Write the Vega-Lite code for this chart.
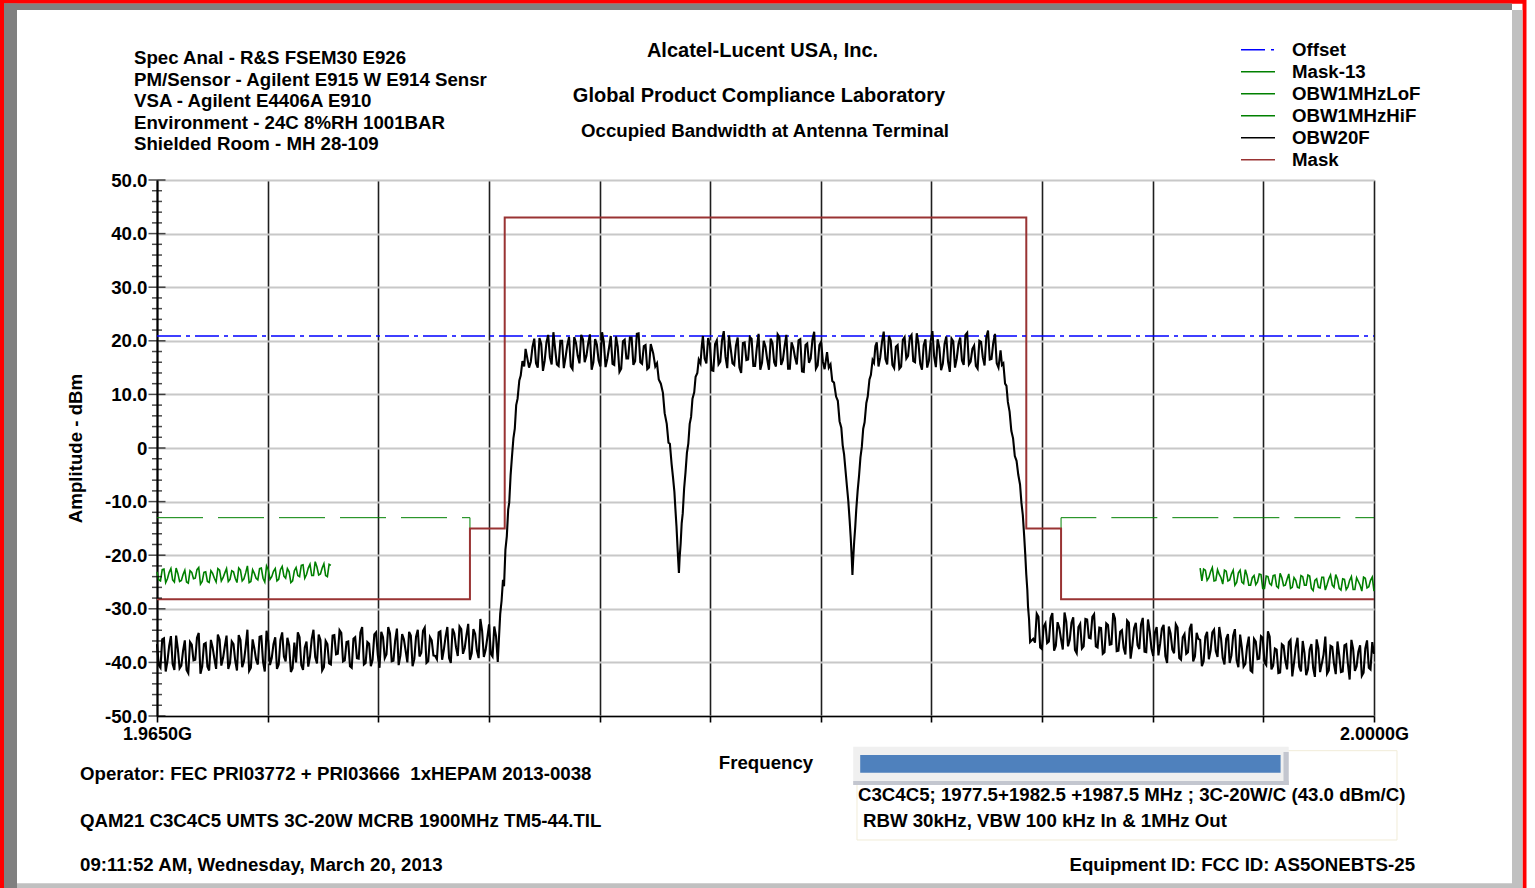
{
  "$schema": "https://vega.github.io/schema/vega-lite/v6.json",
  "width": 1217,
  "height": 536,
  "autosize": {"type": "none"},
  "padding": {"left": 157, "top": 180, "right": 161, "bottom": 172},
  "background": "white",
  "config": {"view": {"stroke": null}, "font": "Liberation Sans"},
  "datasets": {
    "obw20": [
      {"f":1965.0,"db":-36.6},{"f":1965.1,"db":-41.0},{"f":1965.2,"db":-35.5},{"f":1965.3,"db":-39.8},{"f":1965.4,"db":-35.1},{"f":1965.5,"db":-41.4},{"f":1965.6,"db":-37.5},{"f":1965.7,"db":-40.6},{"f":1965.8,"db":-35.9},{"f":1965.9,"db":-42.0},
      {"f":1966.0,"db":-36.7},{"f":1966.1,"db":-39.5},{"f":1966.2,"db":-34.5},{"f":1966.3,"db":-40.8},{"f":1966.4,"db":-36.4},{"f":1966.5,"db":-41.5},{"f":1966.6,"db":-37.2},{"f":1966.7,"db":-41.2},{"f":1966.8,"db":-35.7},{"f":1966.9,"db":-39.2},
      {"f":1967.0,"db":-35.0},{"f":1967.1,"db":-40.1},{"f":1967.2,"db":-36.6},{"f":1967.3,"db":-41.5},{"f":1967.4,"db":-35.8},{"f":1967.5,"db":-39.8},{"f":1967.6,"db":-33.9},{"f":1967.7,"db":-41.0},{"f":1967.8,"db":-37.4},{"f":1967.9,"db":-40.4},
      {"f":1968.0,"db":-35.1},{"f":1968.1,"db":-41.7},{"f":1968.2,"db":-36.0},{"f":1968.3,"db":-39.2},{"f":1968.4,"db":-35.3},{"f":1968.5,"db":-40.4},{"f":1968.6,"db":-34.4},{"f":1968.7,"db":-39.8},{"f":1968.8,"db":-36.8},{"f":1968.9,"db":-41.1},
      {"f":1969.0,"db":-40.0},{"f":1969.1,"db":-35.3},{"f":1969.2,"db":-41.4},{"f":1969.3,"db":-36.1},{"f":1969.4,"db":-38.9},{"f":1969.5,"db":-33.9},{"f":1969.6,"db":-40.2},{"f":1969.7,"db":-35.8},{"f":1969.8,"db":-40.9},{"f":1969.9,"db":-36.6},
      {"f":1970.0,"db":-40.4},{"f":1970.1,"db":-34.9},{"f":1970.2,"db":-38.4},{"f":1970.3,"db":-34.5},{"f":1970.4,"db":-39.6},{"f":1970.5,"db":-36.1},{"f":1970.6,"db":-41.0},{"f":1970.7,"db":-35.3},{"f":1970.8,"db":-39.3},{"f":1970.9,"db":-33.4},
      {"f":1971.0,"db":-40.1},{"f":1971.1,"db":-36.5},{"f":1971.2,"db":-39.5},{"f":1971.3,"db":-34.4},{"f":1971.4,"db":-41.0},{"f":1971.5,"db":-35.3},{"f":1971.6,"db":-38.5},{"f":1971.7,"db":-34.6},{"f":1971.8,"db":-39.7},{"f":1971.9,"db":-33.7},
      {"f":1972.0,"db":-38.7},{"f":1972.1,"db":-35.7},{"f":1972.2,"db":-40.0},{"f":1972.3,"db":-35.0},{"f":1972.4,"db":-39.4},{"f":1972.5,"db":-33.9},{"f":1972.6,"db":-38.2},{"f":1972.7,"db":-33.5},{"f":1972.8,"db":-39.8},{"f":1972.9,"db":-35.9},
      {"f":1973.0,"db":-38.8},{"f":1973.1,"db":-34.4},{"f":1973.2,"db":-39.5},{"f":1973.3,"db":-35.2},{"f":1973.4,"db":-39.2},{"f":1973.5,"db":-33.7},{"f":1973.6,"db":-37.2},{"f":1973.7,"db":-33.3},{"f":1973.8,"db":-38.4},{"f":1973.9,"db":-34.9},
      {"f":1974.0,"db":-39.5},{"f":1974.1,"db":-33.8},{"f":1974.2,"db":-37.8},{"f":1974.3,"db":-31.9},{"f":1974.4,"db":-39.0},{"f":1974.5,"db":-35.4},{"f":1974.6,"db":-38.4},{"f":1974.7,"db":-33.3},{"f":1974.8,"db":-39.9},
      {"f":1974.87,"db":-31.0},{"f":1974.91,"db":-28.5},{"f":1974.95,"db":-24.6},{"f":1974.98,"db":-25.8},{"f":1975.02,"db":-19.0},{"f":1975.06,"db":-16.5},{"f":1975.1,"db":-11.5},{"f":1975.13,"db":-10.2},{"f":1975.17,"db":-5.0},{"f":1975.21,"db":-1.5},{"f":1975.25,"db":1.8},{"f":1975.29,"db":3.6},{"f":1975.33,"db":8.0},{"f":1975.37,"db":9.2},{"f":1975.42,"db":12.6},{"f":1975.46,"db":13.5},{"f":1975.51,"db":16.2},{"f":1975.56,"db":15.2},{"f":1975.6,"db":18.5},
      {"f":1975.7,"db":15.0},{"f":1975.8,"db":18.9},{"f":1975.9,"db":15.8},{"f":1976.0,"db":20.5},{"f":1976.1,"db":14.4},{"f":1976.2,"db":19.7},{"f":1976.3,"db":16.9},{"f":1976.4,"db":21.6},{"f":1976.5,"db":15.6},{"f":1976.6,"db":20.0},
      {"f":1976.7,"db":14.9},{"f":1976.8,"db":19.2},{"f":1976.9,"db":15.2},{"f":1977.0,"db":20.7},{"f":1977.1,"db":17.2},{"f":1977.2,"db":21.1},{"f":1977.3,"db":16.0},{"f":1977.4,"db":19.5},{"f":1977.5,"db":14.6},{"f":1977.6,"db":20.3},
      {"f":1977.7,"db":16.3},{"f":1977.8,"db":21.6},{"f":1977.9,"db":15.1},{"f":1978.0,"db":18.7},{"f":1978.1,"db":15.7},{"f":1978.2,"db":20.8},{"f":1978.3,"db":14.2},{"f":1978.4,"db":19.9},{"f":1978.5,"db":16.7},{"f":1978.6,"db":20.6},
      {"f":1978.7,"db":15.5},{"f":1978.8,"db":21.3},{"f":1978.9,"db":16.0},{"f":1979.0,"db":19.0},{"f":1979.1,"db":14.7},{"f":1979.2,"db":19.4},
      {"f":1979.27,"db":17.7},{"f":1979.33,"db":15.2},{"f":1979.38,"db":15.8},{"f":1979.43,"db":12.8},{"f":1979.49,"db":12.0},{"f":1979.55,"db":10.3},{"f":1979.6,"db":6.5},{"f":1979.66,"db":4.5},{"f":1979.71,"db":1.0},{"f":1979.75,"db":0.8},{"f":1979.8,"db":-3.0},{"f":1979.84,"db":-5.5},{"f":1979.88,"db":-8.2},{"f":1979.91,"db":-11.5},{"f":1979.94,"db":-14.6},{"f":1979.97,"db":-18.5},{"f":1979.99,"db":-21.0},{"f":1980.01,"db":-23.3},
      {"f":1980.03,"db":-20.5},{"f":1980.06,"db":-17.8},{"f":1980.09,"db":-14.0},{"f":1980.12,"db":-12.2},{"f":1980.16,"db":-7.5},{"f":1980.2,"db":-4.5},{"f":1980.24,"db":-0.9},{"f":1980.28,"db":0.8},{"f":1980.32,"db":4.5},{"f":1980.36,"db":5.8},{"f":1980.4,"db":9.2},{"f":1980.45,"db":10.4},{"f":1980.49,"db":13.3},{"f":1980.54,"db":14.0},{"f":1980.58,"db":16.5},{"f":1980.63,"db":15.8},{"f":1980.67,"db":19.2},
      {"f":1980.7,"db":20.9},{"f":1980.8,"db":15.8},{"f":1980.9,"db":19.3},{"f":1981.0,"db":14.4},{"f":1981.1,"db":20.1},{"f":1981.2,"db":16.1},{"f":1981.3,"db":21.8},{"f":1981.4,"db":14.9},{"f":1981.5,"db":18.5},{"f":1981.6,"db":15.5},
      {"f":1981.7,"db":20.6},{"f":1981.8,"db":14.0},{"f":1981.9,"db":19.7},{"f":1982.0,"db":16.5},{"f":1982.1,"db":20.4},{"f":1982.2,"db":15.3},{"f":1982.3,"db":21.3},{"f":1982.4,"db":15.9},{"f":1982.5,"db":18.9},{"f":1982.6,"db":14.6},
      {"f":1982.7,"db":19.6},{"f":1982.8,"db":15.2},{"f":1982.9,"db":20.7},{"f":1983.0,"db":16.4},{"f":1983.1,"db":21.1},{"f":1983.2,"db":14.8},{"f":1983.3,"db":18.7},{"f":1983.4,"db":15.6},{"f":1983.5,"db":20.3},{"f":1983.6,"db":14.2},
      {"f":1983.7,"db":19.5},{"f":1983.8,"db":16.7},{"f":1983.9,"db":21.7},{"f":1984.0,"db":15.4},{"f":1984.1,"db":19.8},{"f":1984.2,"db":14.7},
      {"f":1984.27,"db":17.9},{"f":1984.32,"db":15.0},{"f":1984.37,"db":15.6},{"f":1984.42,"db":12.5},{"f":1984.47,"db":12.2},{"f":1984.53,"db":9.6},{"f":1984.58,"db":8.8},{"f":1984.63,"db":5.0},{"f":1984.68,"db":3.8},{"f":1984.72,"db":0.5},{"f":1984.76,"db":-1.2},{"f":1984.8,"db":-4.1},{"f":1984.84,"db":-7.0},{"f":1984.88,"db":-9.8},{"f":1984.92,"db":-13.5},{"f":1984.95,"db":-16.6},{"f":1984.98,"db":-20.4},{"f":1985.0,"db":-23.7},
      {"f":1985.02,"db":-21.0},{"f":1985.05,"db":-17.5},{"f":1985.08,"db":-14.8},{"f":1985.11,"db":-11.5},{"f":1985.15,"db":-8.0},{"f":1985.19,"db":-5.2},{"f":1985.23,"db":-1.8},{"f":1985.27,"db":0.2},{"f":1985.31,"db":3.6},{"f":1985.35,"db":4.8},{"f":1985.4,"db":8.4},{"f":1985.44,"db":9.6},{"f":1985.49,"db":12.8},{"f":1985.53,"db":13.6},{"f":1985.58,"db":16.4},{"f":1985.62,"db":15.9},{"f":1985.66,"db":19.0},
      {"f":1985.7,"db":19.7},{"f":1985.8,"db":16.9},{"f":1985.9,"db":21.7},{"f":1986.0,"db":15.6},{"f":1986.1,"db":20.0},{"f":1986.2,"db":14.9},{"f":1986.3,"db":19.2},{"f":1986.4,"db":15.2},{"f":1986.5,"db":20.7},{"f":1986.6,"db":17.2},
      {"f":1986.7,"db":21.1},{"f":1986.8,"db":16.0},{"f":1986.9,"db":19.5},{"f":1987.0,"db":14.6},{"f":1987.1,"db":20.3},{"f":1987.2,"db":16.3},{"f":1987.3,"db":21.8},{"f":1987.4,"db":15.1},{"f":1987.5,"db":18.7},{"f":1987.6,"db":15.7},
      {"f":1987.7,"db":20.8},{"f":1987.8,"db":14.2},{"f":1987.9,"db":19.9},{"f":1988.0,"db":16.7},{"f":1988.1,"db":20.6},{"f":1988.2,"db":15.5},{"f":1988.3,"db":21.5},{"f":1988.4,"db":16.1},{"f":1988.5,"db":19.1},{"f":1988.6,"db":14.8},
      {"f":1988.7,"db":19.8},{"f":1988.8,"db":15.4},{"f":1988.9,"db":21.9},{"f":1989.0,"db":16.6},{"f":1989.1,"db":21.3},{"f":1989.2,"db":15.0},
      {"f":1989.26,"db":18.2},{"f":1989.3,"db":15.5},{"f":1989.34,"db":15.8},{"f":1989.39,"db":12.0},{"f":1989.43,"db":11.6},{"f":1989.47,"db":8.6},{"f":1989.52,"db":6.8},{"f":1989.57,"db":3.2},{"f":1989.62,"db":1.8},{"f":1989.67,"db":-1.5},{"f":1989.72,"db":-2.4},{"f":1989.77,"db":-5.0},{"f":1989.82,"db":-6.8},{"f":1989.86,"db":-10.2},{"f":1989.9,"db":-12.5},{"f":1989.94,"db":-16.5},{"f":1989.97,"db":-19.8},{"f":1990.0,"db":-23.6},{"f":1990.03,"db":-26.5},{"f":1990.05,"db":-29.6},{"f":1990.08,"db":-32.0},{"f":1990.11,"db":-36.2},
      {"f":1990.2,"db":-35.6},{"f":1990.3,"db":-30.9},{"f":1990.4,"db":-37.2},{"f":1990.5,"db":-33.3},{"f":1990.6,"db":-36.4},{"f":1990.7,"db":-31.7},{"f":1990.8,"db":-37.8},{"f":1990.9,"db":-32.5},
      {"f":1991.0,"db":-35.7},{"f":1991.1,"db":-30.7},{"f":1991.2,"db":-37.0},{"f":1991.3,"db":-32.6},{"f":1991.4,"db":-37.7},{"f":1991.5,"db":-33.4},{"f":1991.6,"db":-37.4},{"f":1991.7,"db":-31.9},{"f":1991.8,"db":-35.4},{"f":1991.9,"db":-31.5},
      {"f":1992.0,"db":-37.0},{"f":1992.1,"db":-33.5},{"f":1992.2,"db":-38.4},{"f":1992.3,"db":-32.7},{"f":1992.4,"db":-36.7},{"f":1992.5,"db":-30.8},{"f":1992.6,"db":-37.9},{"f":1992.7,"db":-34.3},{"f":1992.8,"db":-37.3},{"f":1992.9,"db":-32.2},
      {"f":1993.0,"db":-39.3},{"f":1993.1,"db":-33.6},{"f":1993.2,"db":-36.8},{"f":1993.3,"db":-32.9},{"f":1993.4,"db":-38.0},{"f":1993.5,"db":-32.0},{"f":1993.6,"db":-37.4},{"f":1993.7,"db":-34.4},{"f":1993.8,"db":-38.7},{"f":1993.9,"db":-33.7},
      {"f":1994.0,"db":-38.8},{"f":1994.1,"db":-33.3},{"f":1994.2,"db":-37.6},{"f":1994.3,"db":-32.9},{"f":1994.4,"db":-39.2},{"f":1994.5,"db":-35.3},{"f":1994.6,"db":-38.4},{"f":1994.7,"db":-33.7},{"f":1994.8,"db":-39.8},{"f":1994.9,"db":-34.5},
      {"f":1995.0,"db":-35.8},{"f":1995.1,"db":-39.8},{"f":1995.2,"db":-34.3},{"f":1995.3,"db":-37.8},{"f":1995.4,"db":-33.9},{"f":1995.5,"db":-39.0},{"f":1995.6,"db":-35.5},{"f":1995.7,"db":-40.4},{"f":1995.8,"db":-34.7},{"f":1995.9,"db":-38.7},
      {"f":1996.0,"db":-33.8},{"f":1996.1,"db":-40.9},{"f":1996.2,"db":-37.3},{"f":1996.3,"db":-40.3},{"f":1996.4,"db":-35.2},{"f":1996.5,"db":-41.8},{"f":1996.6,"db":-36.1},{"f":1996.7,"db":-39.3},{"f":1996.8,"db":-35.4},{"f":1996.9,"db":-40.5},
      {"f":1997.0,"db":-35.2},{"f":1997.1,"db":-40.6},{"f":1997.2,"db":-37.6},{"f":1997.3,"db":-41.9},{"f":1997.4,"db":-36.9},{"f":1997.5,"db":-41.3},{"f":1997.6,"db":-35.8},{"f":1997.7,"db":-40.1},{"f":1997.8,"db":-35.4},{"f":1997.9,"db":-41.7},
      {"f":1998.0,"db":-38.2},{"f":1998.1,"db":-41.3},{"f":1998.2,"db":-36.6},{"f":1998.3,"db":-42.7},{"f":1998.4,"db":-37.4},{"f":1998.5,"db":-40.2},{"f":1998.6,"db":-35.2},{"f":1998.7,"db":-41.5},{"f":1998.8,"db":-37.1},{"f":1998.9,"db":-42.2},
      {"f":1999.0,"db":-38.7},{"f":1999.1,"db":-41.7},{"f":1999.2,"db":-36.6},{"f":1999.3,"db":-43.2},{"f":1999.4,"db":-37.5},{"f":1999.5,"db":-40.7},{"f":1999.6,"db":-36.8},{"f":1999.7,"db":-41.9},{"f":1999.8,"db":-35.9},{"f":1999.9,"db":-41.3},
      {"f":2000.0,"db":-38.4},
      {"f":1965.05,"db":-40.5},{"f":1965.15,"db":-35.7},{"f":1965.25,"db":-41.7},{"f":1965.35,"db":-36.9},{"f":1965.45,"db":-40.3},{"f":1965.55,"db":-35.0},{"f":1965.65,"db":-41.1},{"f":1965.75,"db":-37.8},{"f":1965.85,"db":-41.4},{"f":1965.95,"db":-36.2},
      {"f":1966.05,"db":-39.6},{"f":1966.15,"db":-35.4},{"f":1966.25,"db":-42.1},{"f":1966.35,"db":-36.6},{"f":1966.45,"db":-40.8},{"f":1966.55,"db":-35.8},{"f":1966.65,"db":-39.3},{"f":1966.75,"db":-34.8},{"f":1966.85,"db":-40.6},{"f":1966.95,"db":-37.0},
      {"f":1967.05,"db":-41.2},{"f":1967.15,"db":-36.1},{"f":1967.25,"db":-39.7},{"f":1967.35,"db":-34.9},{"f":1967.45,"db":-40.9},{"f":1967.55,"db":-37.1},{"f":1967.65,"db":-41.6},{"f":1967.75,"db":-35.7},{"f":1967.85,"db":-39.5},{"f":1967.95,"db":-35.2},
      {"f":1968.05,"db":-39.9},{"f":1968.15,"db":-34.1},{"f":1968.25,"db":-40.5},{"f":1968.35,"db":-36.6},{"f":1968.45,"db":-41.2},{"f":1968.55,"db":-35.8},{"f":1968.65,"db":-38.9},{"f":1968.75,"db":-35.4},{"f":1968.85,"db":-41.8},{"f":1968.95,"db":-36.3},
      {"f":1969.05,"db":-34.4},{"f":1969.15,"db":-40.5},{"f":1969.25,"db":-37.2},{"f":1969.35,"db":-40.8},{"f":1969.45,"db":-35.6},{"f":1969.55,"db":-39.0},{"f":1969.65,"db":-34.8},{"f":1969.75,"db":-41.5},{"f":1969.85,"db":-36.0},{"f":1969.95,"db":-40.2},
      {"f":1970.05,"db":-35.0},{"f":1970.15,"db":-38.5},{"f":1970.25,"db":-34.0},{"f":1970.35,"db":-39.8},{"f":1970.45,"db":-36.2},{"f":1970.55,"db":-40.7},{"f":1970.65,"db":-35.6},{"f":1970.75,"db":-39.2},{"f":1970.85,"db":-34.4},{"f":1970.95,"db":-40.4},
      {"f":1971.05,"db":-36.2},{"f":1971.15,"db":-40.7},{"f":1971.25,"db":-34.8},{"f":1971.35,"db":-38.6},{"f":1971.45,"db":-34.3},{"f":1971.55,"db":-39.2},{"f":1971.65,"db":-33.4},{"f":1971.75,"db":-39.8},{"f":1971.85,"db":-35.9},{"f":1971.95,"db":-40.5},
      {"f":1972.05,"db":-34.7},{"f":1972.15,"db":-37.8},{"f":1972.25,"db":-34.3},{"f":1972.35,"db":-40.7},{"f":1972.45,"db":-35.2},{"f":1972.55,"db":-38.9},{"f":1972.65,"db":-34.1},{"f":1972.75,"db":-40.1},{"f":1972.85,"db":-35.3},{"f":1972.95,"db":-38.7},
      {"f":1973.05,"db":-39.4},{"f":1973.15,"db":-34.2},{"f":1973.25,"db":-37.6},{"f":1973.35,"db":-33.4},{"f":1973.45,"db":-40.1},{"f":1973.55,"db":-34.6},{"f":1973.65,"db":-38.8},{"f":1973.75,"db":-33.8},{"f":1973.85,"db":-37.3},{"f":1973.95,"db":-32.8},
      {"f":1974.05,"db":-38.3},{"f":1974.15,"db":-34.7},{"f":1974.25,"db":-39.2},{"f":1974.35,"db":-34.1},{"f":1974.45,"db":-37.7},{"f":1974.55,"db":-32.9},{"f":1974.65,"db":-38.9},{"f":1974.75,"db":-35.1},
      {"f":1975.75,"db":16.1},{"f":1975.85,"db":20.4},{"f":1975.95,"db":15.0},{"f":1976.05,"db":19.4},{"f":1976.15,"db":16.3},{"f":1976.25,"db":21.1},{"f":1976.35,"db":15.6},{"f":1976.45,"db":18.5},{"f":1976.55,"db":15.3},{"f":1976.65,"db":20.0},
      {"f":1976.75,"db":16.9},{"f":1976.85,"db":20.7},{"f":1976.95,"db":14.7},{"f":1977.05,"db":19.6},{"f":1977.15,"db":15.8},{"f":1977.25,"db":20.3},{"f":1977.35,"db":17.2},{"f":1977.45,"db":21.2},{"f":1977.55,"db":16.0},{"f":1977.65,"db":19.3},
      {"f":1977.75,"db":15.2},{"f":1977.85,"db":19.8},{"f":1977.95,"db":16.6},{"f":1978.05,"db":20.9},{"f":1978.15,"db":15.5},{"f":1978.25,"db":18.9},{"f":1978.35,"db":14.8},{"f":1978.45,"db":20.2},{"f":1978.55,"db":16.7},{"f":1978.65,"db":20.6},
      {"f":1978.75,"db":16.2},{"f":1978.85,"db":21.4},{"f":1978.95,"db":15.7},{"f":1979.05,"db":19.2},{"f":1979.15,"db":15.0},
      {"f":1980.75,"db":16.7},{"f":1980.85,"db":20.5},{"f":1980.95,"db":14.5},{"f":1981.05,"db":19.4},{"f":1981.15,"db":15.6},{"f":1981.25,"db":20.1},{"f":1981.35,"db":17.0},{"f":1981.45,"db":21.0},{"f":1981.55,"db":15.8},{"f":1981.65,"db":19.1},
      {"f":1981.75,"db":15.0},{"f":1981.85,"db":19.6},{"f":1981.95,"db":16.4},{"f":1982.05,"db":20.7},{"f":1982.15,"db":15.3},{"f":1982.25,"db":18.7},{"f":1982.35,"db":14.6},{"f":1982.45,"db":20.0},{"f":1982.55,"db":16.5},{"f":1982.65,"db":20.4},
      {"f":1982.75,"db":16.0},{"f":1982.85,"db":21.2},{"f":1982.95,"db":15.5},{"f":1983.05,"db":19.0},{"f":1983.15,"db":14.8},{"f":1983.25,"db":19.7},{"f":1983.35,"db":16.9},{"f":1983.45,"db":20.1},{"f":1983.55,"db":14.3},{"f":1983.65,"db":19.2},
      {"f":1983.75,"db":15.9},{"f":1983.85,"db":20.2},{"f":1983.95,"db":14.8},{"f":1984.05,"db":19.2},{"f":1984.15,"db":16.1},
      {"f":1985.75,"db":15.2},{"f":1985.85,"db":19.8},{"f":1985.95,"db":16.6},{"f":1986.05,"db":20.9},{"f":1986.15,"db":15.5},{"f":1986.25,"db":18.9},{"f":1986.35,"db":14.8},{"f":1986.45,"db":20.2},{"f":1986.55,"db":16.7},{"f":1986.65,"db":20.6},
      {"f":1986.75,"db":16.2},{"f":1986.85,"db":21.4},{"f":1986.95,"db":15.7},{"f":1987.05,"db":19.2},{"f":1987.15,"db":15.0},{"f":1987.25,"db":19.9},{"f":1987.35,"db":17.1},{"f":1987.45,"db":20.3},{"f":1987.55,"db":14.5},{"f":1987.65,"db":19.4},
      {"f":1987.75,"db":16.1},{"f":1987.85,"db":20.4},{"f":1987.95,"db":15.0},{"f":1988.05,"db":19.4},{"f":1988.15,"db":16.3},{"f":1988.25,"db":21.1},{"f":1988.35,"db":15.6},{"f":1988.45,"db":18.5},{"f":1988.55,"db":15.3},{"f":1988.65,"db":20.0},
      {"f":1988.75,"db":16.9},{"f":1988.85,"db":20.7},{"f":1988.95,"db":16.5},{"f":1989.05,"db":19.6},{"f":1989.15,"db":15.8},
      {"f":1990.25,"db":-36.3},{"f":1990.35,"db":-31.5},{"f":1990.45,"db":-37.5},{"f":1990.55,"db":-32.7},{"f":1990.65,"db":-36.1},{"f":1990.75,"db":-30.8},{"f":1990.85,"db":-36.9},{"f":1990.95,"db":-33.6},
      {"f":1991.05,"db":-37.6},{"f":1991.15,"db":-32.4},{"f":1991.25,"db":-35.8},{"f":1991.35,"db":-31.6},{"f":1991.45,"db":-38.3},{"f":1991.55,"db":-32.8},{"f":1991.65,"db":-37.0},{"f":1991.75,"db":-32.0},{"f":1991.85,"db":-35.5},{"f":1991.95,"db":-31.0},
      {"f":1992.05,"db":-37.2},{"f":1992.15,"db":-33.6},{"f":1992.25,"db":-38.1},{"f":1992.35,"db":-33.0},{"f":1992.45,"db":-36.6},{"f":1992.55,"db":-31.8},{"f":1992.65,"db":-37.8},{"f":1992.75,"db":-34.0},{"f":1992.85,"db":-38.5},{"f":1992.95,"db":-32.6},
      {"f":1993.05,"db":-36.9},{"f":1993.15,"db":-32.6},{"f":1993.25,"db":-37.5},{"f":1993.35,"db":-31.7},{"f":1993.45,"db":-38.1},{"f":1993.55,"db":-34.2},{"f":1993.65,"db":-38.8},{"f":1993.75,"db":-33.4},{"f":1993.85,"db":-36.5},{"f":1993.95,"db":-33.0},
      {"f":1994.05,"db":-40.1},{"f":1994.15,"db":-34.6},{"f":1994.25,"db":-38.3},{"f":1994.35,"db":-33.5},{"f":1994.45,"db":-39.5},{"f":1994.55,"db":-34.7},{"f":1994.65,"db":-38.1},{"f":1994.75,"db":-32.8},{"f":1994.85,"db":-38.9},{"f":1994.95,"db":-35.6},
      {"f":1995.05,"db":-40.7},{"f":1995.15,"db":-35.2},{"f":1995.25,"db":-39.4},{"f":1995.35,"db":-34.4},{"f":1995.45,"db":-37.9},{"f":1995.55,"db":-33.4},{"f":1995.65,"db":-39.2},{"f":1995.75,"db":-35.6},{"f":1995.85,"db":-40.1},{"f":1995.95,"db":-35.0},
      {"f":1996.05,"db":-39.6},{"f":1996.15,"db":-34.8},{"f":1996.25,"db":-40.8},{"f":1996.35,"db":-37.0},{"f":1996.45,"db":-41.5},{"f":1996.55,"db":-35.6},{"f":1996.65,"db":-39.4},{"f":1996.75,"db":-35.1},{"f":1996.85,"db":-40.0},{"f":1996.95,"db":-34.2},
      {"f":1997.05,"db":-41.3},{"f":1997.15,"db":-37.4},{"f":1997.25,"db":-42.0},{"f":1997.35,"db":-36.6},{"f":1997.45,"db":-39.7},{"f":1997.55,"db":-36.2},{"f":1997.65,"db":-42.6},{"f":1997.75,"db":-37.1},{"f":1997.85,"db":-40.8},{"f":1997.95,"db":-36.0},
      {"f":1998.05,"db":-42.4},{"f":1998.15,"db":-37.6},{"f":1998.25,"db":-41.0},{"f":1998.35,"db":-35.7},{"f":1998.45,"db":-41.8},{"f":1998.55,"db":-38.5},{"f":1998.65,"db":-42.1},{"f":1998.75,"db":-36.9},{"f":1998.85,"db":-40.3},{"f":1998.95,"db":-36.1},
      {"f":1999.05,"db":-41.8},{"f":1999.15,"db":-36.8},{"f":1999.25,"db":-40.3},{"f":1999.35,"db":-35.8},{"f":1999.45,"db":-41.6},{"f":1999.55,"db":-38.0},{"f":1999.65,"db":-42.5},{"f":1999.75,"db":-37.4},{"f":1999.85,"db":-41.0},{"f":1999.95,"db":-36.2}
    ],
    "lof": [
      {"f":1965.0,"db":-23.1},{"f":1965.1,"db":-24.8},{"f":1965.2,"db":-22.6},{"f":1965.3,"db":-24.4},{"f":1965.4,"db":-22.5},{"f":1965.5,"db":-25.0},{"f":1965.6,"db":-23.4},{"f":1965.7,"db":-24.7},{"f":1965.8,"db":-22.8},{"f":1965.9,"db":-25.2},
      {"f":1966.0,"db":-23.2},{"f":1966.1,"db":-24.3},{"f":1966.2,"db":-22.3},{"f":1966.3,"db":-24.9},{"f":1966.4,"db":-23.1},{"f":1966.5,"db":-25.1},{"f":1966.6,"db":-23.4},{"f":1966.7,"db":-25.0},{"f":1966.8,"db":-22.8},{"f":1966.9,"db":-24.2},
      {"f":1967.0,"db":-22.5},{"f":1967.1,"db":-24.5},{"f":1967.2,"db":-23.1},{"f":1967.3,"db":-25.1},{"f":1967.4,"db":-22.8},{"f":1967.5,"db":-24.4},{"f":1967.6,"db":-22.0},{"f":1967.7,"db":-24.9},{"f":1967.8,"db":-23.4},{"f":1967.9,"db":-24.6},
      {"f":1968.0,"db":-22.4},{"f":1968.1,"db":-25.0},{"f":1968.2,"db":-22.7},{"f":1968.3,"db":-24.0},{"f":1968.4,"db":-22.5},{"f":1968.5,"db":-24.5},{"f":1968.6,"db":-22.1},{"f":1968.7,"db":-24.3},{"f":1968.8,"db":-23.1},{"f":1968.9,"db":-24.8},
      {"f":1969.0,"db":-22.3},{"f":1969.1,"db":-24.0},{"f":1969.2,"db":-21.8},{"f":1969.3,"db":-23.6},{"f":1969.4,"db":-21.7},{"f":1969.5,"db":-23.8},{"f":1969.6,"db":-22.2},{"f":1969.7,"db":-23.5},{"f":1969.8,"db":-21.6},{"f":1969.9,"db":-24.0},
      {"f":1970.0,"db":-21.9},
      {"f":1965.05,"db":-24.6},{"f":1965.15,"db":-22.7},{"f":1965.25,"db":-25.1},{"f":1965.35,"db":-23.2},{"f":1965.45,"db":-24.6},{"f":1965.55,"db":-22.4},{"f":1965.65,"db":-24.9},{"f":1965.75,"db":-23.6},{"f":1965.85,"db":-25.0},{"f":1965.95,"db":-22.9},
      {"f":1966.05,"db":-24.4},{"f":1966.15,"db":-22.7},{"f":1966.25,"db":-25.4},{"f":1966.35,"db":-23.2},{"f":1966.45,"db":-24.9},{"f":1966.55,"db":-22.9},{"f":1966.65,"db":-24.3},{"f":1966.75,"db":-22.5},{"f":1966.85,"db":-24.8},{"f":1966.95,"db":-23.3},
      {"f":1967.05,"db":-24.9},{"f":1967.15,"db":-22.9},{"f":1967.25,"db":-24.3},{"f":1967.35,"db":-22.4},{"f":1967.45,"db":-24.8},{"f":1967.55,"db":-23.3},{"f":1967.65,"db":-25.1},{"f":1967.75,"db":-22.7},{"f":1967.85,"db":-24.3},{"f":1967.95,"db":-22.5},
      {"f":1968.05,"db":-24.3},{"f":1968.15,"db":-22.0},{"f":1968.25,"db":-24.5},{"f":1968.35,"db":-23.0},{"f":1968.45,"db":-24.8},{"f":1968.55,"db":-22.7},{"f":1968.65,"db":-23.9},{"f":1968.75,"db":-22.5},{"f":1968.85,"db":-25.1},{"f":1968.95,"db":-22.9},
      {"f":1969.05,"db":-23.8},{"f":1969.15,"db":-21.9},{"f":1969.25,"db":-24.3},{"f":1969.35,"db":-22.4},{"f":1969.45,"db":-23.8},{"f":1969.55,"db":-21.2},{"f":1969.65,"db":-23.7},{"f":1969.75,"db":-22.4},{"f":1969.85,"db":-23.8},{"f":1969.95,"db":-21.7}
    ],
    "hif": [
      {"f":1995.0,"db":-22.4},{"f":1995.1,"db":-22.6},{"f":1995.2,"db":-24.7},{"f":1995.3,"db":-23.1},{"f":1995.4,"db":-24.8},{"f":1995.5,"db":-22.7},{"f":1995.6,"db":-24.2},{"f":1995.7,"db":-22.8},{"f":1995.8,"db":-24.8},{"f":1995.9,"db":-23.5},
      {"f":1996.0,"db":-25.6},{"f":1996.1,"db":-23.3},{"f":1996.2,"db":-25.0},{"f":1996.3,"db":-22.7},{"f":1996.4,"db":-25.6},{"f":1996.5,"db":-24.2},{"f":1996.6,"db":-25.5},{"f":1996.7,"db":-23.5},{"f":1996.8,"db":-26.2},{"f":1996.9,"db":-23.9},
      {"f":1997.0,"db":-25.3},{"f":1997.1,"db":-23.8},{"f":1997.2,"db":-25.8},{"f":1997.3,"db":-23.4},{"f":1997.4,"db":-25.7},{"f":1997.5,"db":-24.5},{"f":1997.6,"db":-26.2},{"f":1997.7,"db":-24.2},{"f":1997.8,"db":-26.0},{"f":1997.9,"db":-23.8},
      {"f":1998.0,"db":-25.6},{"f":1998.1,"db":-23.7},{"f":1998.2,"db":-26.2},{"f":1998.3,"db":-24.7},{"f":1998.4,"db":-26.0},{"f":1998.5,"db":-24.1},{"f":1998.6,"db":-26.5},{"f":1998.7,"db":-24.4},{"f":1998.8,"db":-25.6},{"f":1998.9,"db":-23.6},
      {"f":1999.0,"db":-26.2},{"f":1999.1,"db":-24.4},{"f":1999.2,"db":-26.4},{"f":1999.3,"db":-24.7},{"f":1999.4,"db":-26.4},{"f":1999.5,"db":-24.2},{"f":1999.6,"db":-25.6},{"f":1999.7,"db":-24.1},{"f":1999.8,"db":-26.1},{"f":1999.9,"db":-24.7},
      {"f":2000.0,"db":-26.7},
      {"f":1995.05,"db":-24.8},{"f":1995.15,"db":-22.8},{"f":1995.25,"db":-24.2},{"f":1995.35,"db":-22.3},{"f":1995.45,"db":-24.7},{"f":1995.55,"db":-23.6},{"f":1995.65,"db":-25.4},{"f":1995.75,"db":-23.0},{"f":1995.85,"db":-24.6},{"f":1995.95,"db":-22.8},
      {"f":1996.05,"db":-25.1},{"f":1996.15,"db":-22.8},{"f":1996.25,"db":-25.3},{"f":1996.35,"db":-23.8},{"f":1996.45,"db":-25.6},{"f":1996.55,"db":-23.8},{"f":1996.65,"db":-25.0},{"f":1996.75,"db":-23.6},{"f":1996.85,"db":-26.2},{"f":1996.95,"db":-24.0},
      {"f":1997.05,"db":-25.6},{"f":1997.15,"db":-23.7},{"f":1997.25,"db":-26.1},{"f":1997.35,"db":-24.2},{"f":1997.45,"db":-25.6},{"f":1997.55,"db":-23.5},{"f":1997.65,"db":-26.0},{"f":1997.75,"db":-24.7},{"f":1997.85,"db":-26.1},{"f":1997.95,"db":-24.0},
      {"f":1998.05,"db":-25.6},{"f":1998.15,"db":-23.9},{"f":1998.25,"db":-26.6},{"f":1998.35,"db":-24.4},{"f":1998.45,"db":-26.1},{"f":1998.55,"db":-24.1},{"f":1998.65,"db":-25.5},{"f":1998.75,"db":-23.7},{"f":1998.85,"db":-26.0},{"f":1998.95,"db":-24.5},
      {"f":1999.05,"db":-26.5},{"f":1999.15,"db":-24.5},{"f":1999.25,"db":-25.9},{"f":1999.35,"db":-24.0},{"f":1999.45,"db":-26.4},{"f":1999.55,"db":-24.9},{"f":1999.65,"db":-26.7},{"f":1999.75,"db":-24.3},{"f":1999.85,"db":-25.9},{"f":1999.95,"db":-24.1}
    ],
    "mask": [
      {"i":0,"f":1965,"db":-28.2},{"i":1,"f":1974,"db":-28.2},{"i":2,"f":1974,"db":-15},{"i":3,"f":1975,"db":-15},{"i":4,"f":1975,"db":43},
      {"i":5,"f":1990,"db":43},{"i":6,"f":1990,"db":-15},{"i":7,"f":1991,"db":-15},{"i":8,"f":1991,"db":-28.2},{"i":9,"f":2000,"db":-28.2}
    ],
    "mask13": [
      {"i":0,"seg":"lo","f":1965,"db":-13},{"i":1,"seg":"lo","f":1974,"db":-13},{"i":2,"seg":"lo","f":1974,"db":-15},
      {"i":3,"seg":"hi","f":1991,"db":-15},{"i":4,"seg":"hi","f":1991,"db":-13},{"i":5,"seg":"hi","f":2000,"db":-13}
    ],
    "offset": [{"db": 20.9}],
    "yticks": [
      {"db":-50},{"db":-48},{"db":-46},{"db":-44},{"db":-42},{"db":-40},{"db":-38},{"db":-36},{"db":-34},{"db":-32},
      {"db":-30},{"db":-28},{"db":-26},{"db":-24},{"db":-22},{"db":-20},{"db":-18},{"db":-16},{"db":-14},{"db":-12},
      {"db":-10},{"db":-8},{"db":-6},{"db":-4},{"db":-2},{"db":0},{"db":2},{"db":4},{"db":6},{"db":8},
      {"db":10},{"db":12},{"db":14},{"db":16},{"db":18},{"db":20},{"db":22},{"db":24},{"db":26},{"db":28},
      {"db":30},{"db":32},{"db":34},{"db":36},{"db":38},{"db":40},{"db":42},{"db":44},{"db":46},{"db":48},{"db":50}
    ],
    "notes": [
      {"f":1964.339,"db":71.586,"t":"Spec Anal - R&S FSEM30 E926"},
      {"f":1964.339,"db":67.593,"t":"PM/Sensor - Agilent E915 W E914 Sensr"},
      {"f":1964.339,"db":63.582,"t":"VSA - Agilent E4406A E910"},
      {"f":1964.339,"db":59.59,"t":"Environment - 24C 8%RH 1001BAR"},
      {"f":1964.339,"db":55.578,"t":"Shielded Room - MH 28-109"},
      {"f":1977.194,"db":58.05,"t":"Occupied Bandwidth at Antenna Terminal"},
      {"f":1962.786,"db":-61.94,"t":"Operator: FEC PRI03772 + PRI03666\u00a0 1xHEPAM 2013-0038"},
      {"f":1962.786,"db":-70.616,"t":"QAM21 C3C4C5 UMTS 3C-20W MCRB 1900MHz TM5-44.TIL"},
      {"f":1962.786,"db":-78.955,"t":"09:11:52 AM, Wednesday, March 20, 2013"},
      {"f":1985.16,"db":-65.858,"t":"C3C4C5; 1977.5+1982.5 +1987.5 MHz ; 3C-20W/C (43.0 dBm/C)"},
      {"f":1985.304,"db":-70.616,"t":"RBW 30kHz, VBW 100 kHz In & 1MHz Out"},
      {"f":1991.243,"db":-78.955,"t":"Equipment ID: FCC ID: AS5ONEBTS-25"}
    ],
    "heads": [
      {"f":1982.414,"db":73.004,"t":"Alcatel-Lucent USA, Inc."},
      {"f":1982.313,"db":64.6,"t":"Global Product Compliance Laboratory"}
    ]
  },
  "layer": [
    {
      "data": {"values": [{}]},
      "mark": {"type": "rect", "filled": false, "stroke": "#ff0000", "strokeWidth": 4},
      "encoding": {
        "x": {"datum": 1960.5424, "type": "quantitative"}, "x2": {"datum": 2004.3283},
        "y": {"datum": 83.265, "type": "quantitative"}, "y2": {"datum": -84.328}
      }
    },
    {
      "data": {"values": [{}]},
      "mark": {"type": "rect", "fill": "#808080"},
      "encoding": {
        "x": {"datum": 1960.5998, "type": "quantitative"}, "x2": {"datum": 2003.9687},
        "y": {"datum": 82.929, "type": "quantitative"}, "y2": {"datum": 81.716}
      }
    },
    {
      "data": {"values": [{}]},
      "mark": {"type": "rect", "fill": "#808080"},
      "encoding": {
        "x": {"datum": 1960.5998, "type": "quantitative"}, "x2": {"datum": 1960.9737},
        "y": {"datum": 82.929, "type": "quantitative"}, "y2": {"datum": -82.09}
      }
    },
    {
      "data": {"values": [{}]},
      "mark": {"type": "rect", "fill": "#c0c0c0"},
      "encoding": {
        "x": {"datum": 2003.9687, "type": "quantitative"}, "x2": {"datum": 2004.2708},
        "y": {"datum": 81.716, "type": "quantitative"}, "y2": {"datum": -82.09}
      }
    },
    {
      "data": {"values": [{}]},
      "mark": {"type": "rect", "fill": "#c0c0c0"},
      "encoding": {
        "x": {"datum": 1960.9737, "type": "quantitative"}, "x2": {"datum": 2003.9687},
        "y": {"datum": -81.213, "type": "quantitative"}, "y2": {"datum": -82.09}
      }
    },
    {
      "data": {"values": [{}]},
      "mark": {"type": "rect", "filled": false, "stroke": "#f1ecd8", "strokeWidth": 1},
      "encoding": {
        "x": {"datum": 1985.1314, "type": "quantitative"}, "x2": {"datum": 2000.6614},
        "y": {"datum": -56.473, "type": "quantitative"}, "y2": {"datum": -73.134}
      }
    },
    {
      "data": {"values": [{}]},
      "mark": {"type": "rect", "fill": "#f0f0f0"},
      "encoding": {
        "x": {"datum": 1985.0222, "type": "quantitative"}, "x2": {"datum": 1997.5469},
        "y": {"datum": -55.727, "type": "quantitative"}, "y2": {"datum": -62.873}
      }
    },
    {
      "data": {"values": [{}]},
      "mark": {"type": "rect", "fill": "#c3c6cf"},
      "encoding": {
        "x": {"datum": 1985.0222, "type": "quantitative"}, "x2": {"datum": 1997.5469},
        "y": {"datum": -62.127, "type": "quantitative"}, "y2": {"datum": -62.873}
      }
    },
    {
      "data": {"values": [{}]},
      "mark": {"type": "rect", "fill": "#c3c6cf"},
      "encoding": {
        "x": {"datum": 1997.3973, "type": "quantitative"}, "x2": {"datum": 1997.5469},
        "y": {"datum": -56.716, "type": "quantitative"}, "y2": {"datum": -62.873}
      }
    },
    {
      "data": {"values": [{}]},
      "mark": {"type": "rect", "fill": "#4f81bd"},
      "encoding": {
        "x": {"datum": 1985.2236, "type": "quantitative"}, "x2": {"datum": 1997.3139},
        "y": {"datum": -57.276, "type": "quantitative"}, "y2": {"datum": -60.578}
      }
    },
    {
      "data": {"name": "mask13"},
      "mark": {"type": "line", "strokeWidth": 1, "strokeDash": [46, 15]},
      "encoding": {
        "x": {"field": "f", "type": "quantitative"},
        "y": {"field": "db", "type": "quantitative"},
        "detail": {"field": "seg"},
        "order": {"field": "i"},
        "color": {"datum": "Mask-13"}
      }
    },
    {
      "data": {"name": "mask"},
      "mark": {"type": "line", "strokeWidth": 2},
      "encoding": {
        "x": {"field": "f", "type": "quantitative"},
        "y": {"field": "db", "type": "quantitative"},
        "order": {"field": "i"},
        "color": {"datum": "Mask"}
      }
    },
    {
      "data": {"name": "offset"},
      "mark": {"type": "rule", "strokeWidth": 1.3, "strokeDash": [24, 5, 4, 5]},
      "encoding": {
        "x": {"datum": 1965, "type": "quantitative"},
        "x2": {"datum": 2000},
        "y": {"field": "db", "type": "quantitative"},
        "color": {"datum": "Offset"}
      }
    },
    {
      "data": {"name": "lof"},
      "mark": {"type": "line", "strokeWidth": 1.6},
      "encoding": {
        "x": {"field": "f", "type": "quantitative"},
        "y": {"field": "db", "type": "quantitative"},
        "color": {"datum": "OBW1MHzLoF"}
      }
    },
    {
      "data": {"name": "hif"},
      "mark": {"type": "line", "strokeWidth": 1.6},
      "encoding": {
        "x": {"field": "f", "type": "quantitative"},
        "y": {"field": "db", "type": "quantitative"},
        "color": {"datum": "OBW1MHzHiF"}
      }
    },
    {
      "data": {"name": "obw20"},
      "mark": {"type": "line", "strokeWidth": 2.1},
      "encoding": {
        "x": {
          "field": "f", "type": "quantitative",
          "scale": {"domain": [1965, 2000], "nice": false, "zero": false},
          "axis": {
            "title": "Frequency",
            "values": [1965, 1968.1818, 1971.3636, 1974.5455, 1977.7273, 1980.9091, 1984.0909, 1987.2727, 1990.4545, 1993.6364, 1996.8182, 2000],
            "labelExpr": "datum.value === 1965 ? '1.9650G' : (datum.value === 2000 ? '2.0000G' : '')",
            "labelFont": "Liberation Sans", "labelFontSize": 18, "labelFontWeight": "bold", "labelColor": "black",
            "labelFlush": false, "labelOverlap": false, "labelPadding": 3,
            "grid": true, "gridColor": "#1e1e1e", "gridWidth": 1.6,
            "domain": true, "domainColor": "black", "domainWidth": 1.6,
            "ticks": true, "tickSize": 6, "tickColor": "black", "tickWidth": 1.6,
            "titleFont": "Liberation Sans", "titleFontSize": 18.67, "titleFontWeight": "bold", "titleColor": "black", "titlePadding": 10
          }
        },
        "y": {
          "field": "db", "type": "quantitative",
          "scale": {"domain": [-50, 50], "nice": false, "zero": false},
          "axis": {
            "title": "Amplitude - dBm",
            "values": [-50, -40, -30, -20, -10, 0, 10, 20, 30, 40, 50],
            "labelExpr": "datum.value === 0 ? '0' : (datum.value < 0 ? '-' + format(-datum.value, '.1f') : format(datum.value, '.1f'))",
            "labelFont": "Liberation Sans", "labelFontSize": 18.67, "labelFontWeight": "bold", "labelColor": "black",
            "labelPadding": 10, "labelFlush": false, "labelOverlap": false,
            "grid": true, "gridColor": "#c8c8c8", "gridWidth": 1.8,
            "domain": true, "domainColor": "black", "domainWidth": 2,
            "ticks": false, "tickSize": 0,
            "titleFont": "Liberation Sans", "titleFontSize": 18.67, "titleFontWeight": "bold", "titleColor": "black", "titlePadding": 19
          }
        },
        "color": {
          "datum": "OBW20F",
          "type": "nominal",
          "scale": {
            "domain": ["Offset", "Mask-13", "OBW1MHzLoF", "OBW1MHzHiF", "OBW20F", "Mask"],
            "range": ["#0000ff", "#008000", "#008000", "#008000", "#000000", "#993333"]
          },
          "legend": {
            "title": null,
            "orient": "none",
            "legendX": 1083,
            "legendY": -141,
            "direction": "vertical",
            "symbolType": "stroke",
            "symbolSize": 1156,
            "symbolStrokeWidth": 1.5,
            "clipHeight": 21.4,
            "rowPadding": 0,
            "padding": 0,
            "offset": 0,
            "labelOffset": 16,
            "labelLimit": 300,
            "labelFont": "Liberation Sans",
            "labelFontSize": 18.67,
            "labelFontWeight": "bold",
            "labelColor": "black",
            "encode": {
              "symbols": {
                "update": {
                  "strokeDash": {"signal": "datum.value === 'Offset' ? [24, 6, 3, 6] : [1, 0]"}
                }
              }
            }
          }
        }
      }
    },
    {
      "data": {"name": "yticks"},
      "mark": {"type": "tick", "orient": "horizontal", "thickness": 1.5, "color": "black"},
      "encoding": {
        "x": {"datum": 1965, "type": "quantitative"},
        "y": {"field": "db", "type": "quantitative"},
        "size": {"condition": {"test": "datum.db % 10 === 0", "value": 17}, "value": 10}
      }
    },
    {
      "data": {"name": "notes"},
      "mark": {"type": "text", "align": "left", "baseline": "alphabetic", "font": "Liberation Sans", "fontSize": 18.67, "fontWeight": "bold", "color": "black"},
      "encoding": {
        "x": {"field": "f", "type": "quantitative"},
        "y": {"field": "db", "type": "quantitative"},
        "text": {"field": "t"}
      }
    },
    {
      "data": {"name": "heads"},
      "mark": {"type": "text", "align": "center", "baseline": "alphabetic", "font": "Liberation Sans", "fontSize": 20, "fontWeight": "bold", "color": "black"},
      "encoding": {
        "x": {"field": "f", "type": "quantitative"},
        "y": {"field": "db", "type": "quantitative"},
        "text": {"field": "t"}
      }
    }
  ]
}
